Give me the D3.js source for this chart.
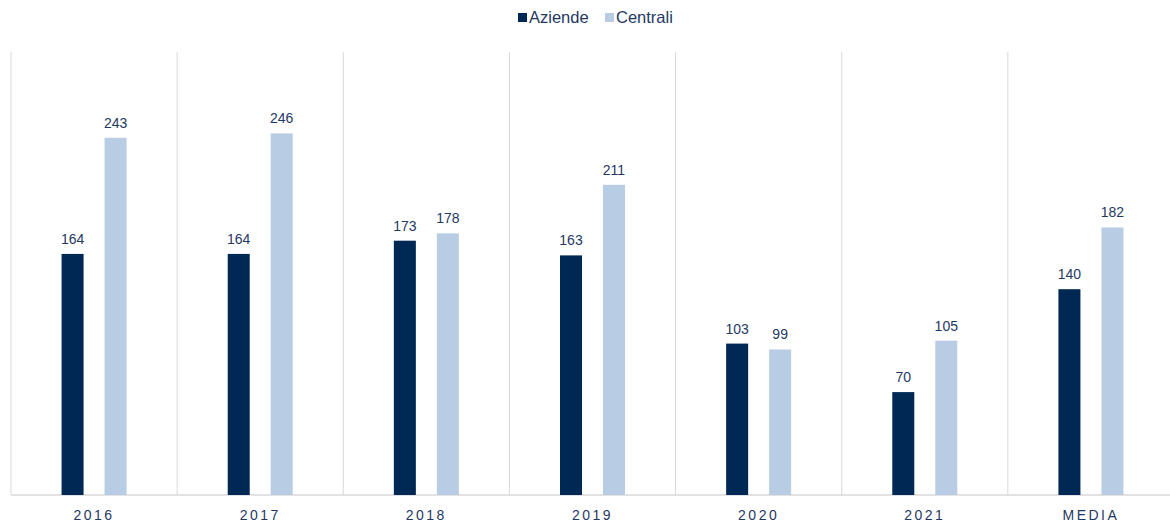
<!DOCTYPE html>
<html>
<head>
<meta charset="utf-8">
<script src="https://cdn.jsdelivr.net/npm/d3@7"></script>
<style>
  body { margin: 0; background: #fff; }
  svg { display: block; font-family: Arial, "Liberation Sans", sans-serif; }
</style>
</head>
<body>
<div id="chart-area"></div>
<script>
var categories = ['2016', '2017', '2018', '2019', '2020', '2021', 'MEDIA']
var aziende = [164, 164, 173, 163, 103, 70, 140]
var centrali = [243, 246, 178, 211, 99, 105, 182]
var seriesNames = ['Aziende', 'Centrali']
var seriesColors = ['#002855', '#b8cce4']

var W = 1170, H = 525
var margin = { top: 54, left: 11, bottom: 30, right: -4 }
var width = W - margin.left - margin.right
var height = H - margin.top - margin.bottom

var svg = d3.select('#chart-area').append('svg')
    .attr('width', W)
    .attr('height', H)

var g = svg.append('g').attr('transform', `translate(${ margin.left }, ${ margin.top })`)

var x = d3.scaleBand().domain(categories).range([0, width])
var y = d3.scaleLinear().domain([0, 300]).range([height, 0])

// vertical separators between categories
var seps = categories.map(c => x(c)).concat([width])
g.selectAll('.sep').data(seps).enter().append('line')
    .attr('class', 'sep')
    .attr('x1', d => d).attr('x2', d => d)
    .attr('y1', -2).attr('y2', height)
    .attr('stroke', '#d9d9d9').attr('stroke-width', 1)

// baseline
g.append('line')
    .attr('x1', 0).attr('x2', width)
    .attr('y1', height).attr('y2', height)
    .attr('stroke', '#d9d9d9').attr('stroke-width', 1.5)

var barW = 22
var offset = 21.5

var data = categories.map((c, i) => ({ cat: c, vals: [aziende[i], centrali[i]] }))

var groups = g.selectAll('.grp').data(data).enter().append('g')
    .attr('transform', d => `translate(${ x(d.cat) + x.bandwidth() / 2 }, 0)`)

groups.each(function(d) {
  var sel = d3.select(this)
  d.vals.forEach((v, k) => {
    var cx = k === 0 ? -offset : offset
    sel.append('rect')
        .attr('x', cx - barW / 2)
        .attr('width', barW)
        .attr('y', y(v))
        .attr('height', height - y(v))
        .attr('fill', seriesColors[k])
    sel.append('text')
        .attr('x', cx)
        .attr('y', y(v) - 10)
        .attr('text-anchor', 'middle')
        .attr('font-size', '14px')
        .attr('fill', '#1f3864')
        .text(v)
  })
})

// x axis labels
g.selectAll('.xlab').data(categories).enter().append('text')
    .attr('x', d => x(d) + x.bandwidth() / 2)
    .attr('y', height + 25)
    .attr('text-anchor', 'middle')
    .attr('font-size', '14px')
    .attr('letter-spacing', '2.5px')
    .attr('fill', '#1f3864')
    .text(d => d)

// legend
var legend = svg.append('g').attr('transform', 'translate(518, 17)')
var lx = [0, 87]
seriesNames.forEach((s, k) => {
  legend.append('rect')
      .attr('x', lx[k]).attr('y', -4)
      .attr('width', 9).attr('height', 9)
      .attr('fill', seriesColors[k])
  legend.append('text')
      .attr('x', lx[k] + 11).attr('y', 6)
      .attr('font-size', '16.5px')
      .attr('fill', '#1f3864')
      .text(s)
})
</script>
</body>
</html>
